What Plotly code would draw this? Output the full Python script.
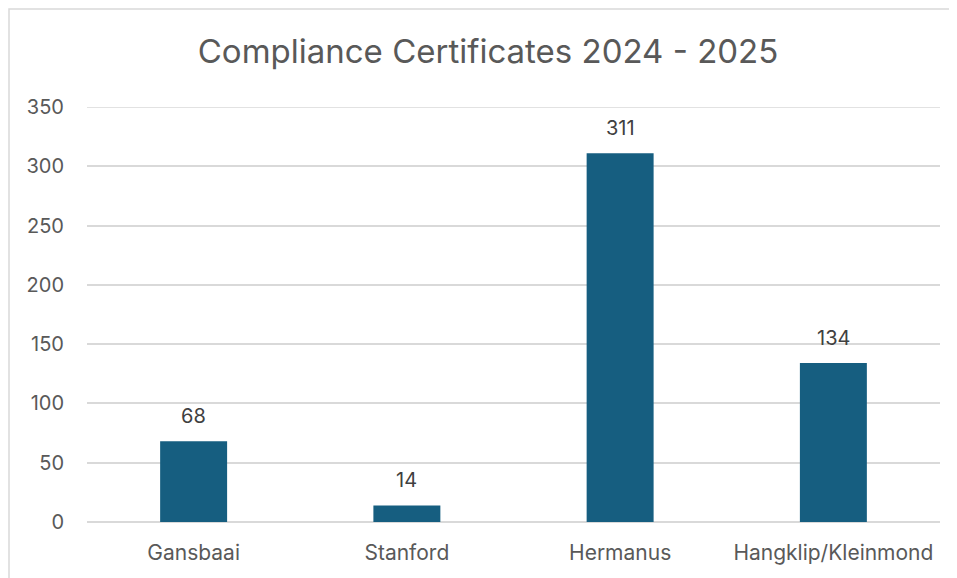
import plotly.graph_objects as go

# chart data
towns = ["Gansbaai", "Stanford", "Hermanus", "Hangklip/Kleinmond"]
certificates = [68, 14, 311, 134]
y_ticks = [0, 50, 100, 150, 200, 250, 300, 350]

# the page body adds an 8px offset, so margins are measured from there
W, H = 957, 578
ml, mr, mt, mb = 79, 25, 99, 64
pw = W - ml - mr
ph = H - mt - mb

FONT = "Inter, Liberation Sans, Arial"

fig = go.Figure()

fig.add_trace(go.Bar(
    x=towns,
    y=certificates,
    marker=dict(color="#165E80", line=dict(width=0)),
    width=0.314,
    hoverinfo="x+y",
))

# value labels above the bars
for town, val in zip(towns, certificates):
    fig.add_annotation(
        x=town, y=val, text=str(val),
        showarrow=False, yanchor="bottom", yshift=11,
        font=dict(family=FONT, size=20, color="#404040"),
    )

# top gridline (plotly skips it at the range edge)
fig.add_shape(
    type="line", xref="paper", yref="y",
    x0=0, x1=1, y0=y_ticks[-1], y1=y_ticks[-1],
    line=dict(color="#D9D9D9", width=1.5),
    layer="below",
)

# light frame around the chart
fig.add_shape(
    type="rect", xref="paper", yref="paper",
    x0=(1 - ml) / pw, x1=(W + 20 - ml) / pw,
    y0=-(mb + 40) / ph, y1=1 + (mt - 1) / ph,
    line=dict(color="#D9D9D9", width=1.5),
    fillcolor="rgba(0,0,0,0)",
    layer="below",
)

fig.update_layout(
    width=W, height=H,
    margin=dict(l=ml, r=mr, t=mt, b=mb),
    paper_bgcolor="white",
    plot_bgcolor="white",
    showlegend=False,
    title=dict(
        text="Compliance Certificates 2024 - 2025",
        x=480 / W, xanchor="center",
        y=1 - 43 / H, yanchor="middle",
        font=dict(family=FONT, size=33, color="#595959"),
    ),
    xaxis=dict(
        showgrid=False, showline=False, zeroline=False,
        ticks="", ticklen=0,
        ticklabelstandoff=16,
        tickfont=dict(family=FONT, size=21, color="#595959"),
    ),
    yaxis=dict(
        range=[0, 350],
        tickvals=y_ticks,
        showgrid=True, gridcolor="#D9D9D9", gridwidth=1.5,
        zeroline=True, zerolinecolor="#D9D9D9", zerolinewidth=1.5,
        showline=False, ticks="",
        ticklabelstandoff=22,
        tickfont=dict(family=FONT, size=20, color="#595959"),
    ),
)

fig.write_html("out.html")
